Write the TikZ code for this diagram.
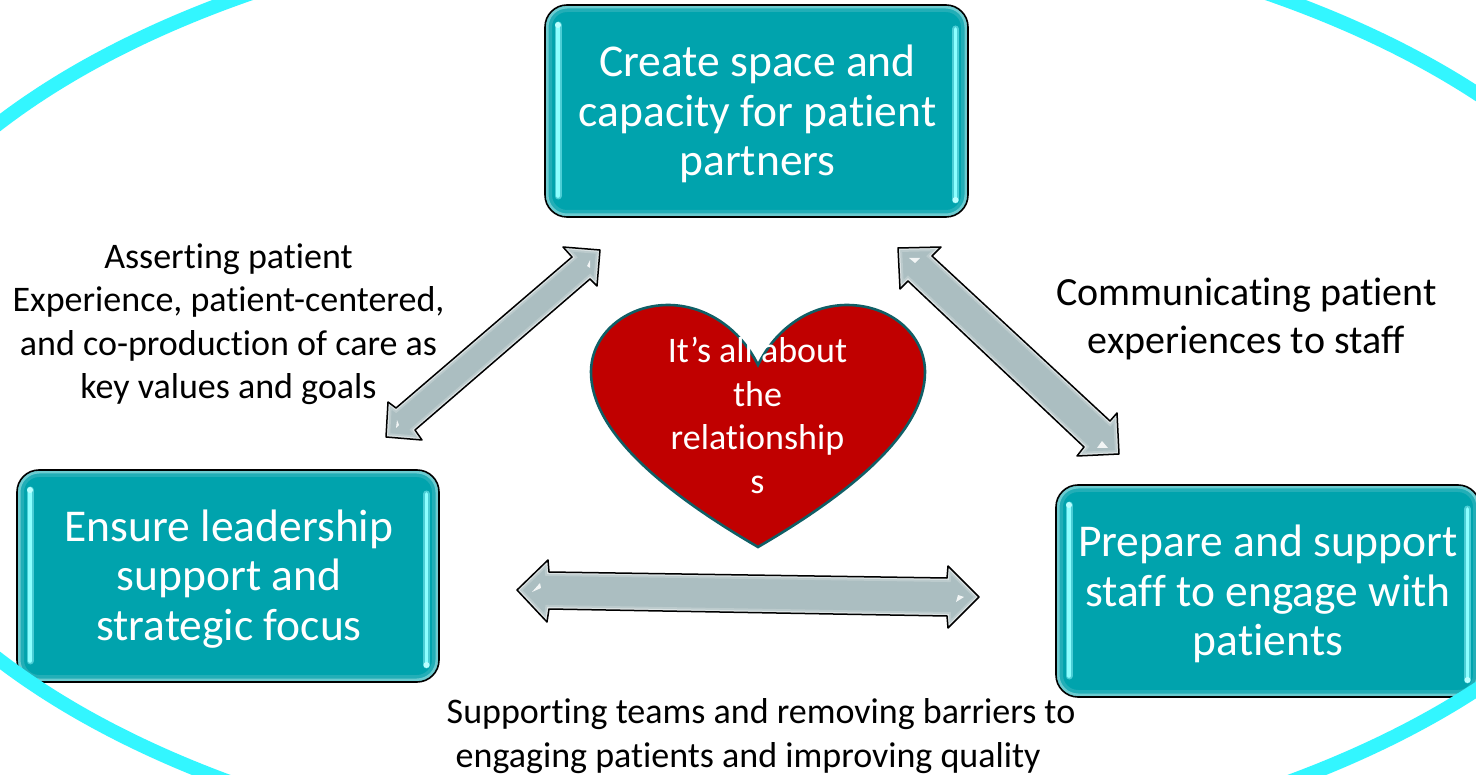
\documentclass[tikz,border=0pt]{standalone}
\usepackage{fontspec}
\setmainfont{Carlito}[Ligatures=NoCommon]
\definecolor{tealfill}{HTML}{00A3AD}
\definecolor{tealmid}{HTML}{22AEB7}
\definecolor{teallight}{HTML}{6CCBD0}
\definecolor{barcol}{HTML}{8CFFFF}
\definecolor{barglow}{HTML}{4CCDD5}
\definecolor{ringcol}{HTML}{33F6FF}
\definecolor{arrowfill}{HTML}{ABBEC1}
\definecolor{arrowmid}{HTML}{BCCBCD}
\definecolor{arrowlight}{HTML}{DCE3E4}
\definecolor{heartfill}{HTML}{C00000}
\definecolor{heartline}{HTML}{0F5F66}
\tikzset{
  boxbase/.style={draw=black,line width=1.6pt,rounded corners=22pt,inner sep=0pt,outer sep=0pt},
  boxtext/.style={inner sep=0pt,text=white,align=center,font=\fontsize{45.5}{49.7}\selectfont},
  barline/.style={draw=barcol,line width=3.6pt,line cap=round},
  barhalo/.style={draw=barglow,line width=7pt,line cap=round},
  labeltext/.style={text=black,align=center,inner sep=0pt,font=\fontsize{36}{43.5}\selectfont},
  labelbig/.style={text=black,align=center,inner sep=0pt,font=\fontsize{40}{48}\selectfont},
  blockarrow/.style={draw=black,line width=1.5pt,line join=round},
  glint/.style={fill=white,draw=none,opacity=.85}
}
% name, x1, y1, x2, y2, text x-offset, text
\newcommand{\tealbox}[7]{%
  \begin{scope}
    \clip[rounded corners=22pt] (#2,#3) rectangle (#4,#5);
    \fill[tealfill] (#2,#3) rectangle (#4,#5);
    \draw[tealmid,line width=14pt,rounded corners=22pt] (#2,#3) rectangle (#4,#5);
    \draw[teallight,line width=7pt,rounded corners=22pt] (#2,#3) rectangle (#4,#5);
    \draw[barhalo] (#2+13,#3+20) -- (#2+13,#5-21);
    \draw[barhalo] (#4-12.5,#3+24) -- (#4-12.5,#5-17);
    \draw[barline] (#2+13,#3+20) -- (#2+13,#5-21);
    \draw[barline] (#4-12.5,#3+24) -- (#4-12.5,#5-17);
    \fill[barcol!60!white] (#2+13,#3+20) circle (3pt);
    \fill[barcol!60!white] (#4-12.5,#5-17) circle (3pt);
  \end{scope}
  \node[boxbase,minimum width={(#4)-(#2)},minimum height={(#5)-(#3)}] (#1)
     at ({((#2)+(#4))/2},{((#3)+(#5))/2}) {};
  \node[boxtext,xshift=#6pt,yshift=-3pt] (#1-text) at (#1) {#7};
}
\newcommand{\blockarrowshape}[1]{%
  \begin{scope}
    \clip #1;
    \fill[arrowfill] #1;
    \draw[arrowmid,line width=8pt] #1;
    \draw[arrowlight,line width=4pt] #1;
  \end{scope}
  \draw[blockarrow] #1;
}
\begin{document}
\begin{tikzpicture}[x=1pt,y=-1pt]
\useasboundingbox (0,0) rectangle (1476,775);
\clip (0,0) rectangle (1476,775);
\fill[white] (0,0) rectangle (1476,775);

% block arrows
\blockarrowshape{(600,250)--(563,247)--(572,257)--(396,408)--(388,402)--(386,437)--(422,440)--(415,430)--(590,279)--(597,286)--cycle}
\blockarrowshape{(898,248)--(941,247)--(932,256)--(1110,421)--(1117,413)--(1119,454)--(1077,456)--(1084,447)--(908,281)--(900,289)--cycle}
\blockarrowshape{(517,590)--(548,560)--(549,572)--(947,578)--(948,566)--(979,597)--(948,628)--(947,616)--(549,609)--(547,622)--cycle}
\fill[glint] (590,260)--(587,266)--(590,268)--cycle;
\fill[glint] (397,420)--(399,425)--(396,428)--cycle;
\fill[glint] (909,258)--(920,258)--(915,263)--cycle;
\fill[glint] (1097,448)--(1102,441)--(1108,448)--cycle;
\fill[glint] (532,592)--(540,583)--(541,588)--cycle;
\fill[glint] (956,602)--(964,597)--(958,595)--cycle;

% boxes
\tealbox{top}{545}{5}{968}{217}{1}{Create space and\\capacity for patient\\partners}
\tealbox{left}{17}{470}{439}{682}{1}{Ensure leadership\\support and\\strategic focus}
\tealbox{right}{1056}{485}{1480}{697}{0}{Prepare and support\\staff to engage with\\patients}

% heart
\draw[fill=heartfill,draw=heartline,line width=2.6pt,line join=miter]
  (758,365) .. controls (740,328) and (705,305) .. (668,305)
  .. controls (625,305) and (591,335) .. (591,372)
  .. controls (591,430) and (660,490) .. (758,547)
  .. controls (856,490) and (925,430) .. (925,372)
  .. controls (925,335) and (891,305) .. (847,305)
  .. controls (810,305) and (776,328) .. (758,365) -- cycle;
\node[inner sep=0pt,text=white,align=center,font=\fontsize{36}{43.5}\selectfont] (heart) at (757.5,415.5)
  {It’s all about\\the\\relationship\\s};

% labels
\node[labeltext] (asserting) at (228.5,324) {Asserting patient\\Experience, patient-centered,\\and co-production of care as\\key values and goals};
\node[labelbig] (communicating) at (1246.5,319) {Communicating patient\\experiences to staff};
\node[labeltext,align=left] (supporting) at (761,736) {Supporting teams and removing barriers to\\\hspace*{9pt}engaging patients and improving quality};

% ring
\draw[ringcol,line width=14pt] (759,391.5) ellipse [x radius=918,y radius=478];
\end{tikzpicture}
\end{document}
